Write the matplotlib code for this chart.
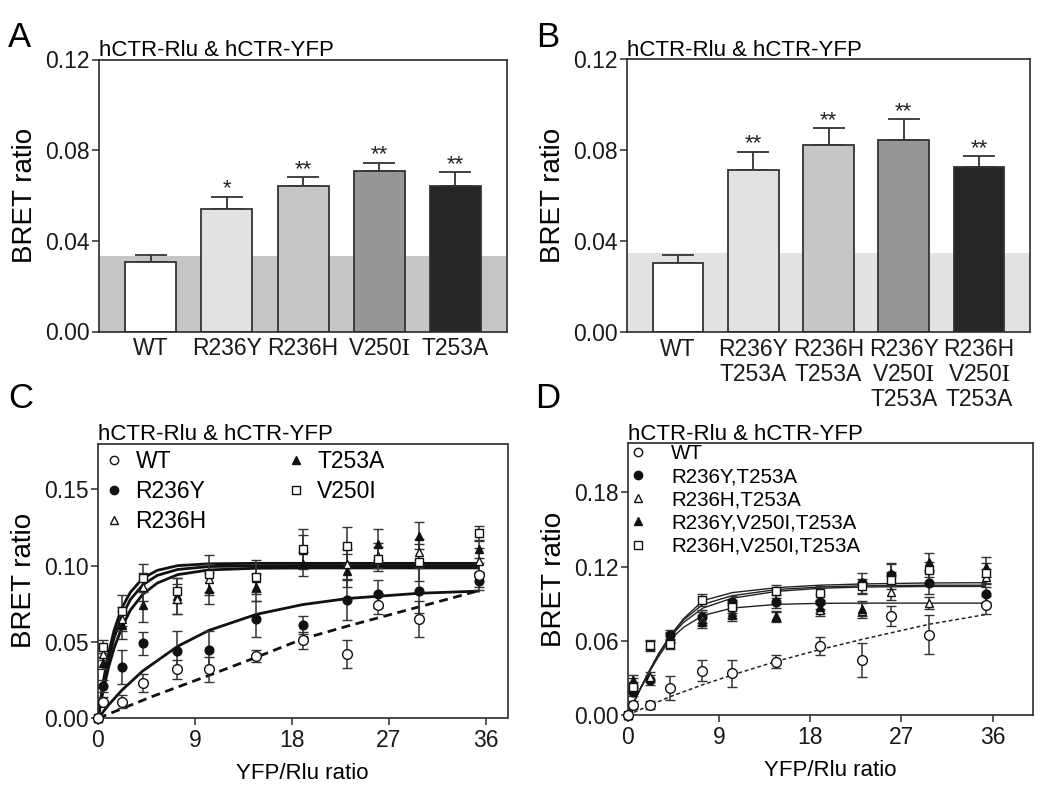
import matplotlib
matplotlib.use('Agg')
import matplotlib.pyplot as plt
from matplotlib.lines import Line2D

plt.rcParams['font.family'] = ['Liberation Sans', 'DejaVu Sans']
plt.rcParams['mathtext.fontset'] = 'stix'

ROMAN_I = r'$\mathrm{I}$'

# ---------------- Panel A data ----------------
a_labels = ['WT', 'R236Y', 'R236H', 'V250' + ROMAN_I, 'T253A']
a_values = [0.0307, 0.0540, 0.0644, 0.0710, 0.0644]
a_errors = [0.0030, 0.0055, 0.0036, 0.0034, 0.0059]
a_stars = ['', '*', '**', '**', '**']
a_band = 0.0335

# ---------------- Panel B data ----------------
b_labels = ['WT', 'R236Y\nT253A', 'R236H\nT253A', 'R236Y\nV250' + ROMAN_I + '\nT253A',
            'R236H\nV250' + ROMAN_I + '\nT253A']
b_values = [0.0306, 0.0713, 0.0822, 0.0844, 0.0726]
b_errors = [0.0031, 0.0081, 0.0076, 0.0092, 0.0049]
b_stars = ['', '**', '**', '**', '**']
b_band = 0.0346

bar_colors = ['#ffffff', '#e2e2e2', '#c6c6c6', '#969696', '#262626']

# ---------------- Panel C / D shared x ----------------
x_pts = [0, 0.45, 2.2, 4.15, 7.35, 10.3, 14.65, 19.0, 23.15, 25.95, 29.75, 35.35]

# Panel C points
c_wt = [0, 0.011, 0.011, 0.023, 0.032, 0.032, 0.041, 0.051, 0.042, 0.074, 0.065, 0.094]
c_wt_err = [0, 0.003, 0.004, 0.006, 0.006, 0.008, 0.004, 0.0055, 0.009, 0.006, 0.012, 0.008]
c_r236y = [0, 0.021, 0.0335, 0.049, 0.0444, 0.0449, 0.065, 0.061, 0.0776, 0.0815, 0.0837, 0.090]
c_r236y_err = [0, 0.004, 0.011, 0.0073, 0.013, 0.012, 0.012, 0.006, 0.013, 0.009, 0.015, 0.006]
c_r236h = [0, 0.042, 0.065, 0.086, 0.078, 0.091, 0.092, 0.110, 0.101, 0.1065, 0.1087, 0.1033]
c_r236h_err = [0, 0.004, 0.008, 0.009, 0.010, 0.010, 0.009, 0.010, 0.010, 0.008, 0.009, 0.008]
c_t253a = [0, 0.036, 0.061, 0.074, 0.080, 0.085, 0.0858, 0.101, 0.0967, 0.114, 0.1196, 0.111]
c_t253a_err = [0, 0.004, 0.009, 0.011, 0.012, 0.010, 0.009, 0.008, 0.011, 0.010, 0.009, 0.006]
c_v250i = [0, 0.047, 0.0706, 0.092, 0.0837, 0.0947, 0.0924, 0.111, 0.113, 0.1044, 0.1022, 0.1211]
c_v250i_err = [0, 0.004, 0.010, 0.009, 0.008, 0.012, 0.011, 0.013, 0.012, 0.008, 0.012, 0.005]

# Panel C fitted curves
c_fast_x = [0, 0.5, 1.0, 1.5, 2.2, 3.0, 4.15, 5.5, 7.4, 10.3, 14.7, 20, 28, 35.3]
c_fit_v250i = [0, 0.0246, 0.0433, 0.0578, 0.0721, 0.0825, 0.0917, 0.0969, 0.1000, 0.1012, 0.1015, 0.1015, 0.1015, 0.1015]
c_fit_r236h = [0, 0.0221, 0.0393, 0.0528, 0.0667, 0.0777, 0.0874, 0.0936, 0.0975, 0.0994, 0.0999, 0.1000, 0.1000, 0.1000]
c_fit_t253a = [0, 0.0188, 0.0339, 0.0461, 0.0593, 0.0708, 0.0812, 0.0886, 0.0941, 0.0972, 0.0983, 0.0985, 0.0985, 0.0985]
c_slow_x = [0, 1, 2.2, 4.15, 7.4, 10.3, 14.7, 19, 23.2, 29.8, 35.3]
c_fit_r236y = [0, 0.0089, 0.0183, 0.0310, 0.0472, 0.0576, 0.0681, 0.0745, 0.0785, 0.0819, 0.0833]
c_wt_x = [0, 5, 10.3, 14.7, 19, 23.2, 29.8, 35.3]
c_fit_wt = [0, 0.0142, 0.0281, 0.0400, 0.0520, 0.0605, 0.0730, 0.0835]

# Panel D points
d_wt = [0, 0.008, 0.008, 0.0216, 0.0356, 0.0337, 0.0432, 0.0559, 0.0445, 0.080, 0.0648, 0.089]
d_wt_err = [0, 0.003, 0.003, 0.0097, 0.0085, 0.011, 0.005, 0.007, 0.0135, 0.008, 0.0158, 0.007]
d_yt = [0, 0.019, 0.028, 0.0648, 0.0796, 0.091, 0.0918, 0.0918, 0.1066, 0.1134, 0.107, 0.0977]
d_yt_err = [0, 0.004, 0.004, 0.004, 0.005, 0.005, 0.005, 0.006, 0.008, 0.009, 0.009, 0.006]
d_ht = [0, 0.026, 0.031, 0.062, 0.078, 0.0837, 0.079, 0.085, 0.0845, 0.0993, 0.0904, 0.112]
d_ht_err = [0, 0.004, 0.004, 0.004, 0.005, 0.005, 0.004, 0.005, 0.006, 0.006, 0.005, 0.006]
d_yvt = [0, 0.028, 0.056, 0.063, 0.0756, 0.081, 0.080, 0.0877, 0.086, 0.1147, 0.124, 0.1196]
d_yvt_err = [0, 0.004, 0.004, 0.004, 0.005, 0.005, 0.004, 0.005, 0.006, 0.008, 0.007, 0.008]
d_hvt = [0, 0.023, 0.057, 0.0572, 0.0931, 0.0877, 0.0999, 0.0985, 0.104, 0.109, 0.1174, 0.1147]
d_hvt_err = [0, 0.004, 0.004, 0.004, 0.005, 0.005, 0.005, 0.006, 0.006, 0.007, 0.006, 0.008]

# Panel D fitted curves
d_fit_x = [0, 0.5, 1.2, 2.2, 3.0, 4.15, 5.5, 7.4, 10.3, 14.7, 19, 23.2, 29.8, 35.3]
d_fit_hvt = [0, 0.009, 0.021, 0.037, 0.049, 0.064, 0.078, 0.0925, 0.0990, 0.1030, 0.1050, 0.1060, 0.1068, 0.107]
d_fit_yvt = [0, 0.009, 0.021, 0.037, 0.049, 0.064, 0.077, 0.0895, 0.0965, 0.1015, 0.1035, 0.1045, 0.105, 0.105]
d_fit_yt = [0, 0.009, 0.021, 0.037, 0.049, 0.063, 0.075, 0.0865, 0.0945, 0.1000, 0.1025, 0.1035, 0.104, 0.104]
d_fit_ht = [0, 0.009, 0.021, 0.036, 0.047, 0.061, 0.071, 0.0805, 0.0865, 0.0895, 0.0903, 0.0905, 0.0905, 0.0905]
d_wt_x = [0, 2.2, 4.15, 7.4, 10.3, 14.7, 19, 23.2, 29.8, 35.3]
d_fit_wt = [0, 0.0080, 0.0148, 0.0245, 0.0324, 0.0435, 0.0530, 0.0613, 0.0735, 0.0812]

title_text = 'hCTR-Rlu & hCTR-YFP'
W, H = 1050, 792
fig = plt.figure(figsize=(W / 100, H / 100), dpi=100)

def rect(l, r, t, b):
    return [l / W, 1 - b / H, (r - l) / W, (b - t) / H]

INK = '#2b2b2b'
TICK_FS = 16.5
TITLE_FS = 16
YLAB_FS = 20
XLAB_FS = 16

def style_axes(ax):
    for s in ax.spines.values():
        s.set_color(INK)
        s.set_linewidth(1.2)
    ax.tick_params(axis='both', direction='out', length=4.8, width=1.1, color=INK,
                   labelsize=TICK_FS, labelcolor='#1a1a1a', pad=2)

def bar_panel(ax, labels, values, errors, stars, band, band_color):
    pos = list(range(len(values)))
    ax.axhspan(0, band, color=band_color, zorder=0, lw=0)
    ax.bar(pos, values, width=0.67, color=bar_colors, edgecolor='#333333', linewidth=1.3, zorder=2)
    ax.errorbar(pos, values, yerr=[[0] * len(errors), errors], fmt='none', ecolor='#333333',
                elinewidth=1.3, capsize=11.5, capthick=1.3, zorder=1)
    for p, v, e, s in zip(pos, values, errors, stars):
        if s:
            ax.text(p, v + e + 0.0034, s, ha='center', va='center', fontsize=16, color='#222222')
    ax.set_xlim(-0.68, 4.68)
    ax.set_ylim(0, 0.12)
    ax.set_yticks([0.00, 0.04, 0.08, 0.12])
    ax.set_yticklabels(['0.00', '0.04', '0.08', '0.12'])
    ax.set_xticks(pos)
    ax.set_xticklabels(labels, fontsize=TICK_FS, linespacing=1.12)
    style_axes(ax)
    ax.tick_params(axis='x', length=0, pad=4)
    ax.set_ylabel('BRET ratio', fontsize=YLAB_FS, labelpad=5)
    ax.text(0.0, 1.012, title_text, transform=ax.transAxes, fontsize=TITLE_FS, ha='left', va='baseline')

axA = fig.add_axes(rect(99, 507, 59.5, 331.5))
bar_panel(axA, a_labels, a_values, a_errors, a_stars, a_band, '#c6c6c6')
axB = fig.add_axes(rect(627, 1030, 59.5, 332))
bar_panel(axB, b_labels, b_values, b_errors, b_stars, b_band, '#e2e2e2')

def pts(ax, y, e, marker, face, ms):
    cont = ax.errorbar(x_pts, y, yerr=e, fmt=marker, mfc=face, mec='#111111', mew=1.0, ms=ms,
                       ecolor='#333333', elinewidth=1.1, capsize=3.3, capthick=1.1, zorder=3)
    for art in cont.get_children():
        art.set_clip_on(False)

def curve_axes_common(ax, ylab_pad=5):
    style_axes(ax)
    ax.set_xticks([0, 9, 18, 27, 36])
    ax.tick_params(axis='x', pad=3)
    ax.set_ylabel('BRET ratio', fontsize=YLAB_FS, labelpad=ylab_pad)
    ax.set_xlabel('YFP/Rlu ratio', fontsize=XLAB_FS, labelpad=8)
    ax.text(0.0, 1.012, title_text, transform=ax.transAxes, fontsize=TITLE_FS, ha='left', va='baseline')

# ---------------- Panel C ----------------
axC = fig.add_axes(rect(98, 507.5, 443.5, 718.3))
for cy in (c_fit_v250i, c_fit_r236h, c_fit_t253a):
    axC.plot(c_fast_x, cy, color='#111111', lw=2.0, zorder=2, solid_joinstyle='round')
axC.plot(c_slow_x, c_fit_r236y, color='#111111', lw=2.0, zorder=2)
axC.plot(c_wt_x, c_fit_wt, color='#111111', lw=2.0, ls=(0, (3.2, 2.0)), zorder=2)
pts(axC, c_r236y, c_r236y_err, 'o', '#111111', 6.3)
pts(axC, c_t253a, c_t253a_err, '^', '#111111', 6.3)
pts(axC, c_r236h, c_r236h_err, '^', 'white', 6.3)
pts(axC, c_v250i, c_v250i_err, 's', 'white', 6.0)
pts(axC, c_wt, c_wt_err, 'o', 'white', 7.0)
axC.set_xlim(0, 38)
axC.set_ylim(0, 0.18)
axC.set_yticks([0.00, 0.05, 0.10, 0.15])
axC.set_yticklabels(['0.00', '0.05', '0.10', '0.15'])
curve_axes_common(axC)
c_handles = [
    Line2D([], [], ls='none', marker='o', mfc='white', mec='#111111', ms=6.0, mew=1.0),
    Line2D([], [], ls='none', marker='o', mfc='#111111', mec='#111111', ms=6.0),
    Line2D([], [], ls='none', marker='^', mfc='white', mec='#111111', ms=6.0, mew=1.0),
    Line2D([], [], ls='none', marker='^', mfc='#111111', mec='#111111', ms=6.0),
    Line2D([], [], ls='none', marker='s', mfc='white', mec='#111111', ms=5.6, mew=1.0),
]
axC.legend(c_handles, ['WT', 'R236Y', 'R236H', 'T253A', 'V250I'], ncol=2, loc='upper left',
           bbox_to_anchor=(0.012, 0.975), frameon=False, borderpad=0, borderaxespad=0,
           handlelength=1.0, handletextpad=0.42, columnspacing=3.4, labelspacing=0.3,
           fontsize=16.5)

# ---------------- Panel D ----------------
axD = fig.add_axes(rect(628, 1033, 443, 715))
for dy in (d_fit_hvt, d_fit_yvt, d_fit_yt, d_fit_ht):
    axD.plot(d_fit_x, dy, color='#222222', lw=1.0, zorder=2)
axD.plot(d_wt_x, d_fit_wt, color='#222222', lw=1.1, ls=(0, (2.5, 1.8)), zorder=2)
pts(axD, d_yt, d_yt_err, 'o', '#111111', 6.3)
pts(axD, d_ht, d_ht_err, '^', 'white', 6.3)
pts(axD, d_yvt, d_yvt_err, '^', '#111111', 6.3)
pts(axD, d_hvt, d_hvt_err, 's', 'white', 6.0)
pts(axD, d_wt, d_wt_err, 'o', 'white', 7.0)
axD.set_xlim(0, 40)
axD.set_ylim(0, 0.22)
axD.set_yticks([0.00, 0.06, 0.12, 0.18])
axD.set_yticklabels(['0.00', '0.06', '0.12', '0.18'])
curve_axes_common(axD)
d_handles = [
    Line2D([], [], ls='none', marker='o', mfc='white', mec='#111111', ms=6.0, mew=1.0),
    Line2D([], [], ls='none', marker='o', mfc='#111111', mec='#111111', ms=6.0),
    Line2D([], [], ls='none', marker='^', mfc='white', mec='#111111', ms=6.0, mew=1.0),
    Line2D([], [], ls='none', marker='^', mfc='#111111', mec='#111111', ms=6.0),
    Line2D([], [], ls='none', marker='s', mfc='white', mec='#111111', ms=5.6, mew=1.0),
]
axD.legend(d_handles, ['WT', 'R236Y,T253A', 'R236H,T253A', 'R236Y,V250I,T253A', 'R236H,V250I,T253A'],
           loc='upper left', bbox_to_anchor=(0.0, 0.995), frameon=False, borderpad=0, borderaxespad=0,
           handlelength=1.0, handletextpad=1.1, labelspacing=0.2, fontsize=14.8)

# Panel letters
for letter, xp, yp in (('A', 8, 47), ('B', 536, 47), ('C', 8, 408), ('D', 535, 408)):
    fig.text(xp / W, 1 - yp / H, letter, fontsize=25, ha='left', va='baseline')

fig.savefig('out.png', dpi=100)
